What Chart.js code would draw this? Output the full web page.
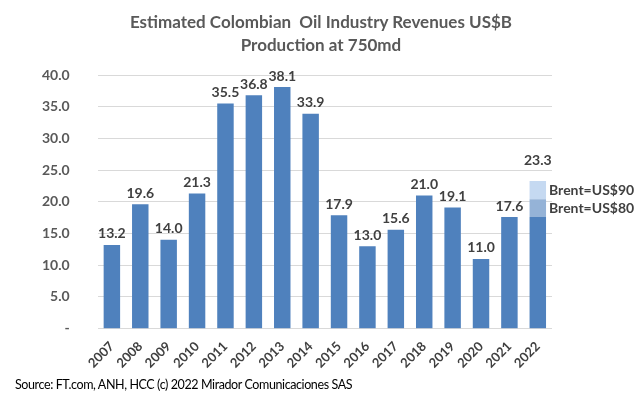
<!DOCTYPE html>
<html lang="en">
<head>
    <meta charset="UTF-8">
    <title>Estimated Colombian Oil Industry Revenues</title>
    <script src="https://cdn.jsdelivr.net/npm/chart.js"></script>
    <style>
        body {
            margin: 0;
            padding: 0;
            background-color: #ffffff;
            font-family: Lato, "Open Sans", Arial, sans-serif;
        }

        #wrap {
            position: relative;
            width: 642px;
            height: 397px;
        }

        #title {
            position: absolute;
            left: 0;
            top: 10px;
            width: 642px;
            text-align: center;
            font-size: 17px;
            font-weight: bold;
            line-height: 23px;
            color: #595959;
        }

        #source {
            position: absolute;
            left: 15px;
            top: 377px;
            font-size: 12.5px;
            letter-spacing: -0.4px;
            color: #000000;
        }
    </style>
</head>
<body>
    <div id="wrap">
        <canvas id="revenueChart" width="642" height="397"></canvas>
        <div id="title">Estimated Colombian&nbsp; Oil Industry Revenues US$B<br>Production at 750md</div>
        <div id="source">Source: FT.com, ANH, HCC (c) 2022 Mirador Comunicaciones SAS</div>
    </div>

    <script>
        // chart data
        const years = ['2007', '2008', '2009', '2010', '2011', '2012', '2013', '2014', '2015', '2016', '2017', '2018', '2019', '2020', '2021', '2022'];
        const revenue = [13.2, 19.6, 14.0, 21.3, 35.5, 36.8, 38.1, 33.9, 17.9, 13.0, 15.6, 21.0, 19.1, 11.0, 17.6, 17.6];
        const brent80Extra = [null, null, null, null, null, null, null, null, null, null, null, null, null, null, null, 2.8];
        const brent90Extra = [null, null, null, null, null, null, null, null, null, null, null, null, null, null, null, 2.9];
        const barLabels = ['13.2', '19.6', '14.0', '21.3', '35.5', '36.8', '38.1', '33.9', '17.9', '13.0', '15.6', '21.0', '19.1', '11.0', '17.6', '23.3'];
        const yTicks = [0, 5, 10, 15, 20, 25, 30, 35, 40];

        const fontFamily = 'Lato, "Open Sans", sans-serif';
        const labelFont = 'bold 14px ' + fontFamily;

        // draws the value labels above the bars and the Brent notes
        const barLabelPlugin = {
            id: 'barLabels',
            afterDatasetsDraw(chart) {
                const ctx = chart.ctx;
                const base = chart.getDatasetMeta(0).data;
                const mid = chart.getDatasetMeta(1).data;
                const top = chart.getDatasetMeta(2).data;
                ctx.save();
                ctx.font = labelFont;
                ctx.fillStyle = '#404040';
                ctx.textAlign = 'center';
                ctx.textBaseline = 'middle';
                base.forEach((bar, i) => {
                    if (brent90Extra[i] != null) {
                        ctx.fillText(barLabels[i], top[i].x, top[i].y - 20);
                    } else {
                        ctx.fillText(barLabels[i], bar.x, bar.y - 11);
                    }
                });
                ctx.textAlign = 'left';
                const last = years.length - 1;
                const bw = base[last].width / 2;
                ctx.fillText('Brent=US$90', top[last].x + bw + 3, (top[last].y + top[last].base) / 2);
                ctx.fillText('Brent=US$80', mid[last].x + bw + 3, (mid[last].y + mid[last].base) / 2);
                ctx.restore();
            }
        };

        const ctx = document.getElementById('revenueChart').getContext('2d');
        const revenueChart = new Chart(ctx, {
            type: 'bar',
            data: {
                labels: years,
                datasets: [{
                    label: 'Revenue',
                    data: revenue,
                    backgroundColor: '#4f81bd',
                    categoryPercentage: 1.0,
                    barPercentage: 0.58
                }, {
                    label: 'Brent=US$80',
                    data: brent80Extra,
                    backgroundColor: '#95b3d7',
                    categoryPercentage: 1.0,
                    barPercentage: 0.58
                }, {
                    label: 'Brent=US$90',
                    data: brent90Extra,
                    backgroundColor: '#c5d9f1',
                    categoryPercentage: 1.0,
                    barPercentage: 0.58
                }]
            },
            options: {
                responsive: false,
                animation: false,
                layout: {
                    padding: { left: 14, right: 90, top: 75, bottom: 24 }
                },
                plugins: {
                    legend: { display: false },
                    tooltip: { enabled: false },
                    title: { display: false }
                },
                scales: {
                    x: {
                        stacked: true,
                        grid: { display: false },
                        border: { display: false },
                        ticks: {
                            color: '#404040',
                            font: { family: fontFamily, size: 13, weight: 'bold' },
                            minRotation: 45,
                            maxRotation: 45,
                            padding: 2
                        }
                    },
                    y: {
                        stacked: true,
                        min: 0,
                        max: 40,
                        afterBuildTicks(axis) {
                            axis.ticks = yTicks.map(v => ({ value: v }));
                        },
                        grid: { color: '#d9d9d9', drawTicks: false },
                        border: { display: false },
                        ticks: {
                            color: '#595959',
                            font: { family: fontFamily, size: 14, weight: 'bold' },
                            padding: 28,
                            callback: v => v === 0 ? '-' : v.toFixed(1)
                        }
                    }
                }
            },
            plugins: [barLabelPlugin]
        });
    </script>
</body>
</html>
